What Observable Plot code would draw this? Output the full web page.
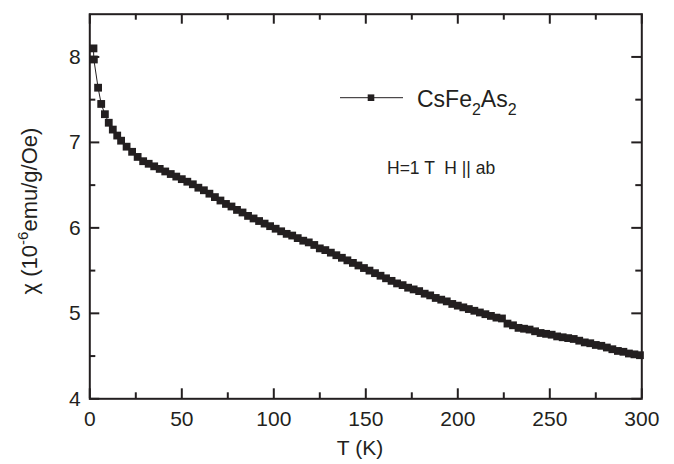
<!DOCTYPE html>
<html><head><meta charset="utf-8">
<script src="https://cdn.jsdelivr.net/npm/d3@7"></script>
<script src="https://cdn.jsdelivr.net/npm/@observablehq/plot@0.6"></script>
<style>body{margin:0;background:#fff} svg{display:block}</style>
</head><body><div id="chart"></div>
<script>
const temperature = [2.0, 2.2, 4.5, 6.2, 8.2, 10.3, 12.5, 14.9,
  17,20,23,26,29,32,35,38,41,44,47,50,53,56,59,62,65,68,71,74,77,80,83,86,89,92,95,98,
  101,104,107,110,113,116,119,122,125,128,131,134,137,140,143,146,149,152,155,158,161,164,167,170,
  173,176,179,182,185,188,191,194,197,200,203,206,209,212,215,218,221,224,227,230,233,236,239,242,
  245,248,251,254,257,260,263,266,269,272,275,278,281,284,287,290,293,296,299];
const chi = [8.10, 7.97, 7.64, 7.45, 7.33, 7.23, 7.15, 7.08,
  7.02,6.95,6.89,6.83,6.78,6.75,6.72,6.69,6.66,6.63,6.60,6.57,6.54,6.51,6.47,6.44,6.40,6.36,6.32,6.28,6.25,6.21,6.18,6.14,6.11,6.08,6.05,6.02,
  5.99,5.96,5.93,5.91,5.88,5.85,5.83,5.80,5.76,5.74,5.71,5.68,5.65,5.62,5.59,5.56,5.53,5.50,5.47,5.44,5.41,5.38,5.35,5.33,
  5.30,5.28,5.26,5.23,5.21,5.18,5.16,5.14,5.11,5.09,5.07,5.05,5.03,5.01,4.99,4.97,4.95,4.94,4.88,4.86,4.83,4.82,4.81,4.79,
  4.77,4.76,4.75,4.73,4.72,4.71,4.70,4.68,4.66,4.65,4.63,4.62,4.60,4.58,4.56,4.55,4.53,4.52,4.51];
const xMajorTicks = [0, 50, 100, 150, 200, 250, 300];
const xMinorTicks = [25, 75, 125, 175, 225, 275];
const yMajorTicks = [4, 5, 6, 7, 8];
const yMinorTicks = [4.5, 5.5, 6.5, 7.5];
const seriesName = ["CsFe", "2", "As", "2"];
const annotation = "H=1 T  H || ab";
const xTitle = "T (K)";
const yTitle = ["χ (10", "-6", "emu/g/Oe)"];

const data = temperature.map((t, i) => ({T: t, chi: chi[i]}));
const ink = "#231f20";
const font = "'Liberation Sans', Arial, Helvetica, sans-serif";

const W = 674, H = 464, mL = 89.3, mR = 32.7, mT = 13.7, mB = 65.7;
const plotW = W - mL - mR, plotH = H - mT - mB;
const major = 10, minor = 6;

const tickMarks = [
  Plot.ruleX(xMajorTicks, {x: d => d, insetTop: plotH - major, stroke: ink, strokeWidth: 2}),
  Plot.ruleX(xMinorTicks, {x: d => d, insetTop: plotH - minor, stroke: ink, strokeWidth: 2}),
  Plot.ruleX(xMajorTicks, {x: d => d, insetBottom: plotH - major, stroke: ink, strokeWidth: 2}),
  Plot.ruleX(xMinorTicks, {x: d => d, insetBottom: plotH - minor, stroke: ink, strokeWidth: 2}),
  Plot.ruleY(yMajorTicks, {y: d => d, insetRight: plotW - major, stroke: ink, strokeWidth: 2}),
  Plot.ruleY(yMinorTicks, {y: d => d, insetRight: plotW - minor, stroke: ink, strokeWidth: 2}),
  Plot.ruleY(yMajorTicks, {y: d => d, insetLeft: plotW - major, stroke: ink, strokeWidth: 2}),
  Plot.ruleY(yMinorTicks, {y: d => d, insetLeft: plotW - minor, stroke: ink, strokeWidth: 2})
];

const chart = Plot.plot({
  width: W, height: H,
  marginLeft: mL, marginRight: mR, marginTop: mT, marginBottom: mB,
  style: {fontFamily: font, fontSize: "21px", color: ink, background: "white", overflow: "visible"},
  x: {domain: [0, 300]},
  y: {domain: [4, 8.5]},
  marks: [
    Plot.line(data, {x: "T", y: "chi", stroke: ink, strokeWidth: 1}),
    Plot.dot(data, {x: "T", y: "chi", symbol: "square", r: 4.4, fill: ink, stroke: null}),
    ...tickMarks,
    Plot.axisX(xMajorTicks, {anchor: "bottom", tickSize: 0, tickPadding: 12, label: null, fill: ink, tickFormat: d3.format("d")}),
    Plot.axisY(yMajorTicks, {anchor: "left", tickSize: 0, tickPadding: 9, label: null, fill: ink, tickFormat: d3.format("d")}),
    Plot.frame({stroke: ink, strokeWidth: 2})
  ]
});
document.getElementById("chart").append(chart);

const svg = d3.select(chart);
const g = svg.append("g").attr("fill", ink).attr("text-anchor", "start").style("font-family", font);
// legend
g.append("line").attr("x1", 340).attr("x2", 403).attr("y1", 97.7).attr("y2", 97.7)
  .attr("stroke", ink).attr("stroke-width", 1);
g.append("rect").attr("x", 371 - 3.3).attr("y", 97.7 - 3.3).attr("width", 6.6).attr("height", 6.6);
const lt = g.append("text").attr("x", 417).attr("y", 106.7).style("font-size", "23px");
lt.append("tspan").text(seriesName[0]);
lt.append("tspan").attr("dy", 8).style("font-size", "16px").text(seriesName[1]);
lt.append("tspan").attr("dy", -8).text(seriesName[2]);
lt.append("tspan").attr("dy", 8).style("font-size", "16px").text(seriesName[3]);
// annotation
g.append("text").attr("x", 387).attr("y", 174).style("font-size", "17.5px").style("white-space", "pre").text(annotation);
// x title
g.append("text").attr("x", 360).attr("y", 455).attr("text-anchor", "middle").style("font-size", "21px").text(xTitle);
// y title
const yt = g.append("text").attr("transform", "translate(37,211) rotate(-90)").attr("text-anchor", "middle").style("font-size", "22px");
yt.append("tspan").text(yTitle[0]);
yt.append("tspan").attr("dy", -9).style("font-size", "15px").text(yTitle[1]);
yt.append("tspan").attr("dy", 9).text(yTitle[2]);
</script>
</body></html>
